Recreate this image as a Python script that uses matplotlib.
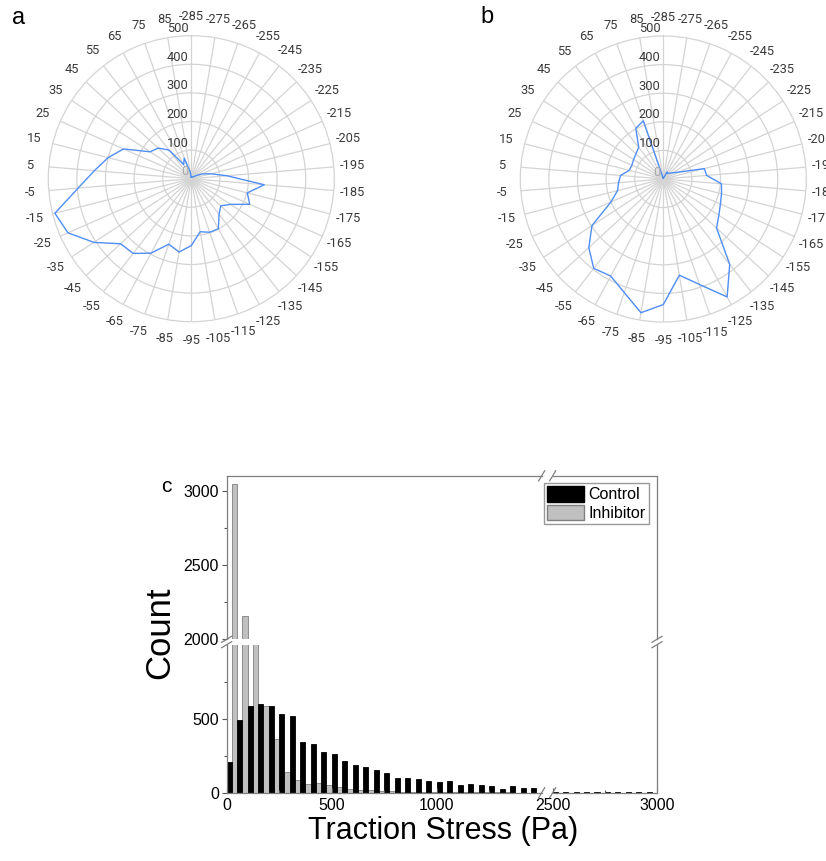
import numpy as np
import matplotlib
matplotlib.use("Agg")
import matplotlib.pyplot as plt
from matplotlib.lines import Line2D
from matplotlib.patches import Patch

W, H = 826, 861          # figure size in pixels (dpi 100)

# ── panels a / b: traction direction counts, 38 bins clockwise from the top ──
direction_labels = [str(-285 + 10 * k) for k in range(38)]
dir_counts_a = [5, 5, 6, 8, 8, 10, 20, 42, 70, 125, 256, 202, 223, 164, 140, 158,
                199, 198, 188, 234, 260, 242, 296, 331, 336, 407, 471, 492, 397,
                340, 300, 259, 172, 158, 127, 56, 76, 25]
dir_counts_b = [3, 3, 5, 28, 25, 30, 40, 60, 148, 152, 204, 210, 218, 232, 253, 378,
                469, 390, 341, 439, 474, 420, 386, 396, 354, 298, 200, 165, 157,
                150, 123, 120, 124, 130, 140, 202, 215, 3]
radial_ticks = [0, 100, 200, 300, 400, 500]

# ── panel c: traction stress histogram (50 Pa bins) ──────────────────────────
bin_starts = list(range(0, 1500, 50))
control_counts = [209, 491, 583, 597, 583, 532, 520, 345, 329, 273, 261, 213, 186,
                  175, 152, 130, 100, 96, 91, 80, 71, 78, 52, 58, 53, 47, 28, 47, 35, 35]
inhibitor_counts = [3043, 2159, 1600, 583, 365, 142, 86, 59, 63, 52, 36, 23, 20, 15,
                    12, 10, 8, 7, 6, 5, 4, 4, 3, 3, 2, 2, 2, 1, 1, 1]
tail_starts = list(range(2500, 3000, 50))
control_tail = [7, 6, 7, 5, 8, 6, 5, 7, 6, 7]
inhibitor_tail = [1, 1, 1, 1, 1, 1, 1, 1, 1, 1]

BLUE = "#4f8ef5"
GRID = "#d4d4d4"
FRAME = "#7f7f7f"
ARIAL = "Liberation Sans"
LABEL_GREY = "#3a3a3a"

fig = plt.figure(figsize=(W / 100, H / 100), dpi=100)


def px_rect(x0, x1, ytop, ybot):
    return [x0 / W, 1 - ybot / H, (x1 - x0) / W, (ybot - ytop) / H]


def radar(cx, cy, rad, values):
    ax = fig.add_axes(px_rect(cx - rad, cx + rad, cy - rad, cy + rad), projection="polar")
    n = len(direction_labels)
    theta = np.arange(n) * 2 * np.pi / n
    ax.set_theta_zero_location("N")
    ax.set_theta_direction(-1)
    ax.set_ylim(0, 500)
    ax.set_xticks(theta)
    ax.set_xticklabels([])
    ax.set_yticks(radial_ticks[1:-1])
    ax.set_yticklabels([])
    ax.tick_params(length=0)
    ax.grid(True, color=GRID, lw=0.9)
    ax.spines["polar"].set_color(GRID)
    ax.spines["polar"].set_linewidth(0.9)
    ax.plot(np.append(theta, theta[0]), list(values) + [values[0]], color=BLUE, lw=1.0, zorder=3)
    for t, lab in zip(theta, direction_labels):
        ax.text(t, 566, lab, ha="center", va="center", fontsize=9.3,
                color=LABEL_GREY, family="Roboto")
    for r in radial_ticks:
        ax.annotate(str(r), xy=(0, r), xytext=(-3, 7), textcoords="offset pixels",
                    ha="right", va="center", fontsize=9.3, family="Roboto",
                    color="#aaaaaa" if r == 0 else LABEL_GREY)
    return ax


radar(191.3, 178.7, 143, dir_counts_a)
radar(663.3, 179.0, 143, dir_counts_b)
fig.text(19 / W, 1 - 18 / H, "a", fontsize=17, family=ARIAL, ha="center", va="center")
fig.text(487 / W, 1 - 17 / H, "b", fontsize=17, family=ARIAL, ha="center", va="center")

# ── histogram with broken x (1500→2500) and y (1000→2000) axes ───────────────
XL, XM1, XM2, XR = 226.7, 541.7, 552.7, 657.0
YB, YM1, YM2, YT = 792.7, 644.7, 639.3, 475.8
ax_ll = fig.add_axes(px_rect(XL, XM1, YM1, YB))
ax_lr = fig.add_axes(px_rect(XM2, XR, YM1, YB))
ax_ul = fig.add_axes(px_rect(XL, XM1, YT, YM2))
ax_ur = fig.add_axes(px_rect(XM2, XR, YT, YM2))

# black bars on the left half of every 50 Pa bin, grey on the right half
for ax in (ax_ll, ax_lr, ax_ul, ax_ur):
    ax.bar([b + 25 for b in bin_starts], inhibitor_counts, width=25, align="edge",
           color="#c0c0c0", edgecolor="#808080", lw=0.6)
    ax.bar(bin_starts, control_counts, width=25, align="edge", color="black",
           edgecolor="black", lw=0.6)
    ax.bar([b + 25 for b in tail_starts], inhibitor_tail, width=25, align="edge",
           color="#c0c0c0", edgecolor="#808080", lw=0.6)
    ax.bar(tail_starts, control_tail, width=25, align="edge", color="black",
           edgecolor="black", lw=0.6)
    for s in ax.spines.values():
        s.set_color(FRAME)
        s.set_linewidth(0.9)
    ax.tick_params(which="both", colors="#555555", labelcolor="black", labelsize=11.5)
    ax.tick_params(axis="x", which="both", direction="in", pad=4)
    ax.tick_params(axis="y", which="both", direction="out", pad=2)
    ax.tick_params(which="major", length=3.5, width=0.8)
    ax.tick_params(which="minor", length=2.2, width=0.8)

for ax in (ax_ll, ax_ul):
    ax.set_xlim(0, 1500)
for ax in (ax_lr, ax_ur):
    ax.set_xlim(2500, 3000)
for ax in (ax_ll, ax_lr):
    ax.set_ylim(0, 1000)
for ax in (ax_ul, ax_ur):
    ax.set_ylim(2000, 3100)

ax_ll.spines[["top", "right"]].set_visible(False)
ax_lr.spines[["top", "left"]].set_visible(False)
ax_ul.spines[["bottom", "right"]].set_visible(False)
ax_ur.spines[["bottom", "left"]].set_visible(False)

ax_ll.set_xticks([0, 500, 1000])
ax_ll.set_xticks([250, 750, 1250], minor=True)
ax_ll.set_yticks([0, 500])
ax_ll.set_yticks([250, 750], minor=True)
ax_lr.set_xticks([2500, 3000])
ax_lr.set_xticks([2750], minor=True)
ax_lr.set_yticks([])
ax_ul.set_xticks([])
ax_ul.set_yticks([2000, 2500, 3000])
ax_ul.set_yticks([2250, 2750], minor=True)
ax_ur.set_xticks([])
ax_ur.set_yticks([])
for ax in (ax_ll, ax_lr, ax_ul):
    for lab in ax.get_xticklabels() + ax.get_yticklabels():
        lab.set_family(ARIAL)


def mark(x0, y0, x1, y1):
    fig.add_artist(Line2D([x0 / W, x1 / W], [1 - y0 / H, 1 - y1 / H],
                          transform=fig.transFigure, color=FRAME, lw=0.9))


for x in (XM1, XM2):
    for y in (YB, YT):
        mark(x - 3, y + 5, x + 3, y - 5)
for y in (YM1, YM2):
    for x in (XL, XR):
        mark(x - 5, y + 3, x + 5, y - 3)

fig.legend(handles=[Patch(fc="black", ec="black"), Patch(fc="#c0c0c0", ec="#808080")],
           labels=["Control", "Inhibitor"], loc="upper right",
           bbox_to_anchor=(649 / W, 1 - 483 / H), bbox_transform=fig.transFigure,
           fancybox=False, edgecolor="#999999", framealpha=1,
           prop={"family": ARIAL, "size": 11.5}, handlelength=2.3, handleheight=1.1,
           borderpad=0.2, labelspacing=0.15, handletextpad=0.3, borderaxespad=0)

fig.text(166 / W, 1 - 486 / H, "c", fontsize=15, family=ARIAL, ha="center", va="center")
fig.text(160 / W, 1 - 633 / H, "Count", fontsize=25, family=ARIAL, rotation=90,
         ha="center", va="center")
fig.text(443 / W, 1 - 831 / H, "Traction Stress (Pa)", fontsize=22, family=ARIAL,
         ha="center", va="center")

fig.savefig("out.png", dpi=100)
